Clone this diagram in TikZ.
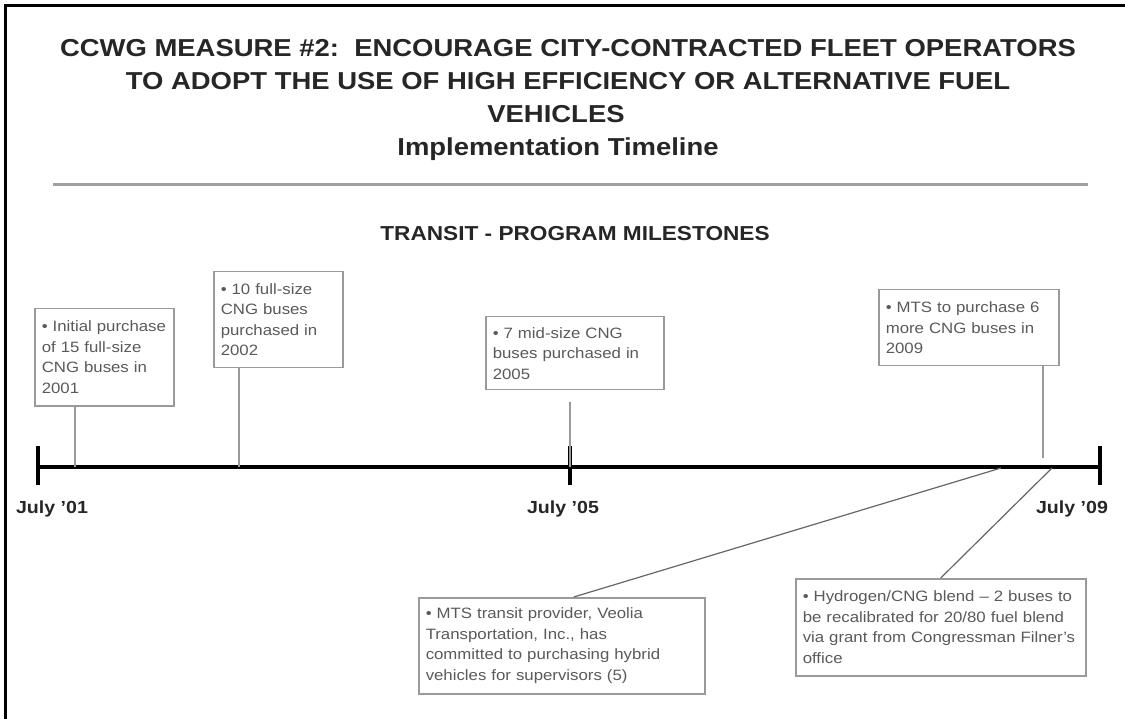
\documentclass[tikz,border=0pt]{standalone}
\usepackage{fontspec}
\newfontfamily\arialx[FakeStretch=1.12,Ligatures=TeX]{Liberation Sans}
\definecolor{boxline}{HTML}{9A9A9A}
\definecolor{boxtext}{HTML}{5A5A5A}
\definecolor{ruleg}{HTML}{A0A0A0}
\begin{document}
\begin{tikzpicture}[x=1pt,y=-1pt,
  titlestyle/.style={anchor=base,inner sep=0pt,text=black!85,font=\arialx\bfseries\fontsize{24.5}{28}\selectfont},
  subtitlestyle/.style={anchor=base,inner sep=0pt,text=black!85,font=\arialx\bfseries\fontsize{20.2}{24}\selectfont},
  datelabel/.style={anchor=base,inner sep=0pt,text=black!85,font=\arialx\bfseries\fontsize{17.5}{20}\selectfont},
  mbox/.style={draw=boxline,line width=1.5pt,fill=white,text=boxtext,anchor=north west,align=left,
    inner xsep=7pt,inner ysep=4pt,font=\arialx\fontsize{15}{20.5}\selectfont},
  stem/.style={draw=boxline,line width=1.5pt},
  diag/.style={draw=black!60,line width=1.2pt},
  axis/.style={draw=black,line width=4pt},
  tick/.style={draw=black,line width=4pt}]
\useasboundingbox (0,0) rectangle (1125,719);
\fill[white] (0,0) rectangle (1125,719);
% frame (left and top edges visible)
\draw[black,line width=3pt] (5,719) -- (5,6) -- (1125,6);
% title
\node[titlestyle] (t1) at (568,57) {CCWG MEASURE \#2:\ \ ENCOURAGE CITY-CONTRACTED FLEET OPERATORS};
\node[titlestyle] (t2) at (568,90) {TO ADOPT THE USE OF HIGH EFFICIENCY OR ALTERNATIVE FUEL};
\node[titlestyle] (t3) at (556,123) {VEHICLES};
\node[titlestyle] (t4) at (558,156) {Implementation Timeline};
\draw[ruleg,line width=3pt] (53,185) -- (1088,185);
\node[subtitlestyle] (sub) at (575,241) {TRANSIT - PROGRAM MILESTONES};
% timeline
\coordinate (a0) at (38,467);
\coordinate (a9) at (1100,467);
\coordinate (m5) at (570,467);
\draw[axis] (a0) -- (a9);
\draw[tick] (38,446) -- (38,485);
\draw[tick] (570,446) -- (570,485);
\draw[tick] (1100,446) -- (1100,485);
\node[datelabel] (d1) at (52,513) {July '01};
\node[datelabel] (d5) at (563,513) {July '05};
\node[datelabel] (d9) at (1072,513) {July '09};
% boxes
\node[mbox,text width=125pt,minimum height=97pt] (b1) at (34,308)
  {• Initial purchase\\of 15 full-size\\CNG buses in\\2001};
\node[mbox,text width=115pt,minimum height=96pt] (b2) at (213,271)
  {• 10 full-size\\CNG buses\\purchased in\\2002};
\node[mbox,text width=164pt,minimum height=73pt] (b3) at (485,316)
  {• 7 mid-size CNG\\buses purchased in\\2005};
\node[mbox,text width=166pt,minimum height=76pt] (b4) at (878,289)
  {• MTS to purchase 6\\more CNG buses in\\2009};
\node[mbox,text width=272pt,minimum height=96pt] (b5) at (418,597)
  {• MTS transit provider, Veolia\\Transportation, Inc., has\\committed to purchasing hybrid\\vehicles for supervisors (5)};
\node[mbox,text width=276pt,minimum height=97pt] (b6) at (795,578)
  {• Hydrogen/CNG blend – 2 buses to\\be recalibrated for 20/80 fuel blend\\via grant from Congressman Filner's\\office};
% connectors
\coordinate (e1) at (75,467);
\coordinate (e2) at (239,467);
\coordinate (e4) at (1043,458);
\coordinate (e5) at (1001,468);
\coordinate (e6) at (1052,468);
\draw[stem] (b1.south -| e1) -- (e1);
\draw[stem] (b2.south -| e2) -- (e2);
\draw[stem] ([yshift=-11pt]b3.south -| m5) -- (m5);
\draw[stem] (b4.south -| e4) -- (e4);
\draw[diag] ([xshift=12pt]b5.north) -- (e5);
\draw[diag] (b6.north) -- (e6);
\end{tikzpicture}
\end{document}
